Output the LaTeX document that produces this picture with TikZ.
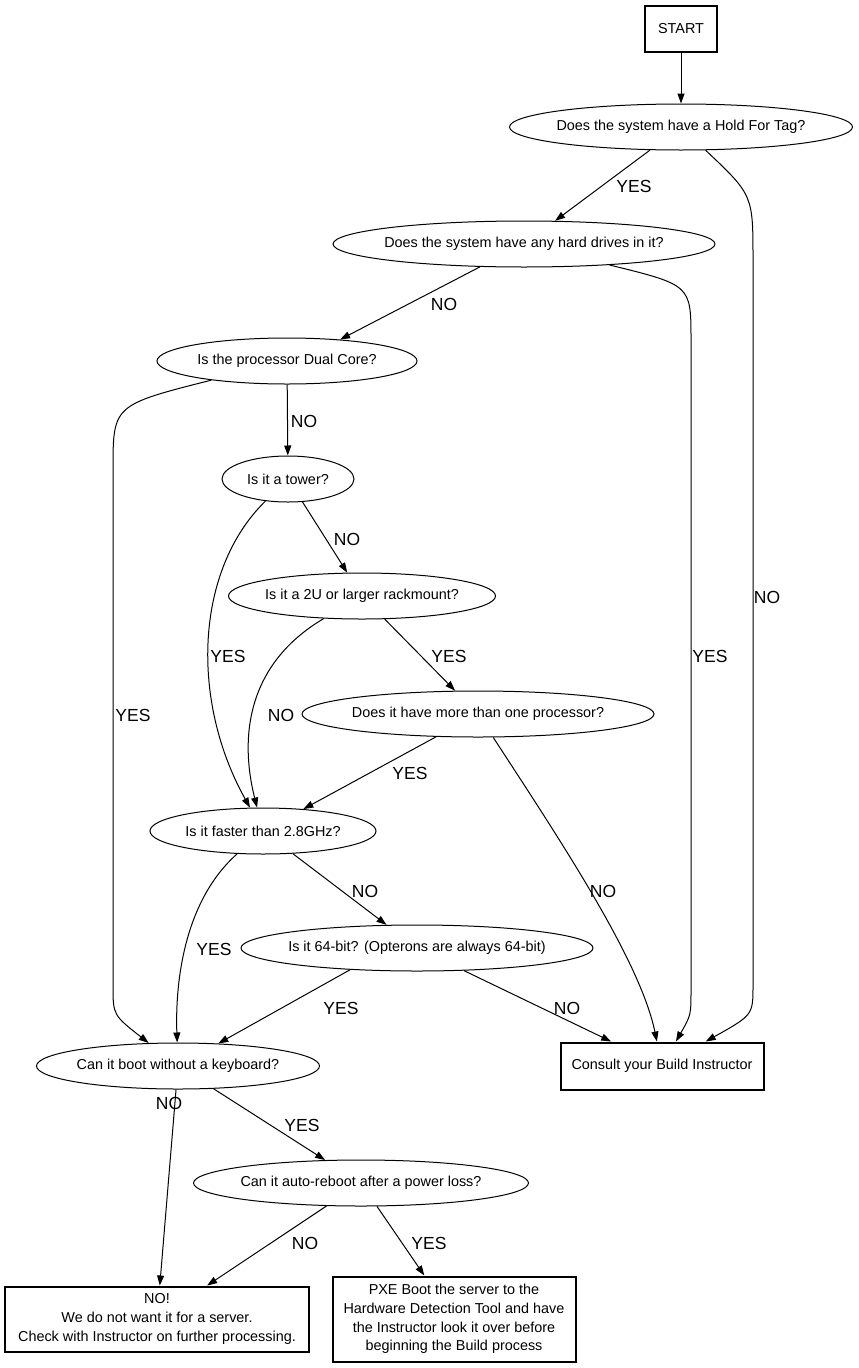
\documentclass[tikz,border=0pt]{standalone}
\usepackage{fontspec}
\setmainfont{Liberation Sans}
\usetikzlibrary{shapes.geometric,arrows.meta}

\tikzset{
  question/.style={draw, ellipse, line width=1pt, inner sep=0pt, minimum height=46pt,
    font=\fontsize{14.4}{18.5}\selectfont},
  answer/.style={draw, rectangle, line width=2pt, inner sep=0pt, align=center,
    font=\fontsize{14.4}{18.7}\selectfont},
  edge/.style={line width=1pt, -{Triangle[length=10pt,width=7pt]}},
  lbl/.style={font=\fontsize{17.5}{20}\selectfont, inner sep=0pt}
}
\newcommand{\qbox}[1]{\makebox[0pt]{#1}}

\begin{document}
\begin{tikzpicture}[x=1pt, y=-1pt]
    \fill[white] (0,0) rectangle (859,1368);
    \useasboundingbox (0,0) rectangle (859,1368);

    % Questions and outcomes
    \node[answer, minimum width=72pt, minimum height=46pt] (start) at (681,29) {START};
    \node[question, minimum width=343pt] (hold) at (681,127) {\qbox{Does the system have a Hold For Tag?}};
    \node[question, minimum width=382pt] (drives) at (524,244) {\qbox{Does the system have any hard drives in it?}};
    \node[question, minimum width=260pt] (dual) at (287,361) {\qbox{Is the processor Dual Core?}};
    \node[question, minimum width=132pt] (tower) at (288,479) {\qbox{Is it a tower?}};
    \node[question, minimum width=267pt] (rack) at (362,596) {\qbox{Is it a 2U or larger rackmount?}};
    \node[question, minimum width=352pt] (multi) at (478,714) {\qbox{Does it have more than one processor?}};
    \node[question, minimum width=226pt] (speed) at (263,831) {\qbox{Is it faster than 2.8GHz?}};
    \node[question, minimum width=352pt] (bits) at (417,948) {\qbox{Is it 64-bit? (Opterons are always 64-bit)}};
    \node[question, minimum width=283pt] (keyb) at (178,1066) {\qbox{Can it boot without a keyboard?}};
    \node[answer, minimum width=203pt, minimum height=47pt] (consult) at (662,1066) {Consult your Build Instructor};
    \node[question, minimum width=335pt] (power) at (361,1183) {\qbox{Can it auto-reboot after a power loss?}};
    \node[answer, minimum width=304pt, minimum height=65pt] (reject) at (157,1319)
        {NO!\\We do not want it for a server.\\Check with Instructor on further processing.};
    \node[answer, minimum width=243pt, minimum height=85pt] (pxe) at (454,1319)
        {PXE Boot the server to the\\Hardware Detection Tool and have\\the Instructor look it over before\\beginning the Build process};

    % Straight connectors
    \draw[edge] (start) -- (hold);
    \draw[edge] (hold) -- (drives) node[lbl, at={(634,186)}] {YES};
    \draw[edge] (drives) -- (dual.22) node[lbl, at={(444,304)}] {NO};
    \draw[edge] (dual) -- (tower) node[lbl, at={(304,421)}] {NO};
    \draw[edge] (tower) -- (rack) node[lbl, at={(347,539)}] {NO};
    \draw[edge] (rack) -- (multi) node[lbl, at={(449,656)}] {YES};
    \draw[edge] (multi) -- (speed) node[lbl, at={(410,773)}] {YES};
    \draw[edge] (speed) -- (bits) node[lbl, at={(365,891)}] {NO};
    \draw[edge] (bits.198) -- (keyb) node[lbl, at={(341,1008)}] {YES};
    \draw[edge] (bits) -- (consult) node[lbl, at={(567,1008)}] {NO};
    \draw[edge] (keyb) -- (reject) node[lbl, at={(169,1103)}] {NO};
    \draw[edge] (keyb) -- (power) node[lbl, at={(302,1125)}] {YES};
    \draw[edge] (power) -- (reject) node[lbl, at={(305,1243)}] {NO};
    \draw[edge] (power) -- (pxe) node[lbl, at={(429,1243)}] {YES};

    % Curved connectors
    \draw[edge] (hold) .. controls (753,195) .. (753,260) -- (753,985)
        .. controls (753,1015) .. (consult) node[lbl, at={(767,597)}] {NO};
    \draw[edge] (drives) .. controls (691,285) .. (691,340) -- (691,990)
        .. controls (691,1015) .. (consult) node[lbl, at={(710,656)}] {YES};
    \draw[edge] (dual) .. controls (113,405) .. (113,470) -- (113,985)
        .. controls (113,1015) .. (keyb) node[lbl, at={(133,715)}] {YES};
    \draw[edge] (tower) .. controls (195,570) and (190,700) .. (speed) node[lbl, at={(228,656)}] {YES};
    \draw[edge] (rack) .. controls (245,665) and (240,740) .. (speed) node[lbl, at={(281,715)}] {NO};
    \draw[edge] (multi) .. controls (560,840) and (640,960) .. (consult) node[lbl, at={(603,891)}] {NO};
    \draw[edge] (speed) .. controls (185,900) and (175,980) .. (keyb) node[lbl, at={(214,949)}] {YES};
\end{tikzpicture}
\end{document}
